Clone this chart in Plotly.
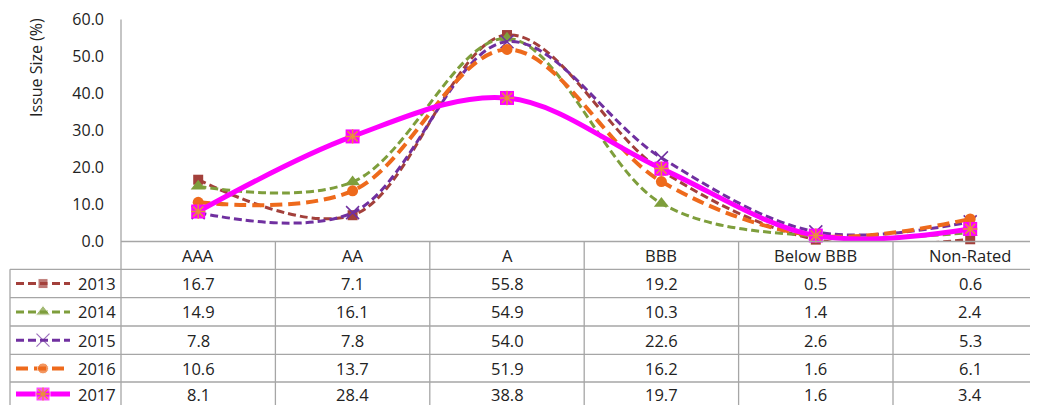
import plotly.graph_objects as go

categories = ["AAA", "AA", "A", "BBB", "Below BBB", "Non-Rated"]
years = ["2013", "2014", "2015", "2016", "2017"]
v2013 = [16.7, 7.1, 55.8, 19.2, 0.5, 0.6]
v2014 = [14.9, 16.1, 54.9, 10.3, 1.4, 2.4]
v2015 = [7.8, 7.8, 54.0, 22.6, 2.6, 5.3]
v2016 = [10.6, 13.7, 51.9, 16.2, 1.6, 6.1]
v2017 = [8.1, 28.4, 38.8, 19.7, 1.6, 3.4]
series_values = [v2013, v2014, v2015, v2016, v2017]
y_ticks = [0, 10, 20, 30, 40, 50, 60]

styles = [
    dict(color="#A3403B", width=3, dash="8px,4px", symbol="square", size=10),
    dict(color="#7E9E3C", width=3, dash="8px,4px", symbol="triangle-up", size=13),
    dict(color="#7030A0", width=3, dash="8px,4px", symbol="x-thin-open", size=13),
    dict(color="#EE6A1C", width=4, dash="12px,6px", symbol="circle", size=11),
    dict(color="#FF00FF", width=5, dash="solid", symbol="square", size=14),
]
STAR = "#E8913A"

W, H = 1038, 405
OFF = 8             # page body margin in the browser
GRID = "#A6A6A6"
TXT = "#222222"
FONT = "Open Sans"
FS = 16.5

# pixel layout (screen pixels) of plot + table, converted to paper pixels
def px(p):
    return p - OFF

AX_X = px(121)          # y-axis line
COL_W = 154.4           # category column width
AX_Y = px(241.5)        # x-axis line
TOP_Y = px(19.5)        # y=60
ROW_LINES = [px(v) for v in (269.3, 297.7, 326.0, 354.3, 382.0)]
ROW_TEXT = [px(v) for v in (283.6, 311.9, 340.2, 368.4, 394.0)]
LEG_X0 = px(10)

fig = go.Figure()

for name, vals, st in zip(years, series_values, styles):
    mk = dict(symbol=st["symbol"], size=st["size"], color=st["color"])
    if st["symbol"].endswith("open"):
        mk["line"] = dict(color=st["color"], width=1.5)
    fig.add_trace(go.Scatter(
        x=categories, y=vals, name=name, mode="lines+markers",
        line=dict(color=st["color"], width=st["width"], dash=st["dash"], shape="spline", smoothing=1.0),
        marker=mk, cliponaxis=False, showlegend=False, xaxis="x", yaxis="y"))
    if name == "2017":
        fig.add_trace(go.Scatter(
            x=categories, y=vals, mode="markers",
            marker=dict(symbol="asterisk-open", size=12, color=STAR, line=dict(color=STAR, width=1.5)),
            cliponaxis=False, showlegend=False, xaxis="x", yaxis="y"))

# legend keys inside the table (pixel overlay axes)
for i, (name, st) in enumerate(zip(years, styles)):
    cy = ROW_TEXT[i]
    mk = dict(symbol=st["symbol"], size=[0, st["size"], 0], color=st["color"])
    if st["symbol"].endswith("open"):
        mk["line"] = dict(color=st["color"], width=1.2)
    fig.add_trace(go.Scatter(
        x=[px(16), px(43), px(70)], y=[cy, cy, cy], mode="lines+markers",
        line=dict(color=st["color"], width=st["width"], dash=st["dash"]),
        marker=mk, showlegend=False, cliponaxis=False, xaxis="x2", yaxis="y2"))
    if name == "2017":
        fig.add_trace(go.Scatter(
            x=[px(43)], y=[cy], mode="markers",
            marker=dict(symbol="asterisk-open", size=11, color=STAR, line=dict(color=STAR, width=1.3)),
            showlegend=False, cliponaxis=False, xaxis="x2", yaxis="y2"))
    fig.add_annotation(x=px(76), y=cy, xref="x2", yref="y2", text=name, showarrow=False,
                       xanchor="left", yanchor="middle", font=dict(size=FS, color=TXT, family=FONT))
    for j, v in enumerate(series_values[i]):
        fig.add_annotation(x=categories[j], y=cy, xref="x", yref="y2", text=f"{v:.1f}",
                           showarrow=False, xanchor="center", yanchor="middle",
                           font=dict(size=FS, color=TXT, family=FONT))

# header row with category names
for c in categories:
    fig.add_annotation(x=c, y=(AX_Y + ROW_LINES[0]) / 2, xref="x", yref="y2", text=c, showarrow=False,
                       xanchor="center", yanchor="middle", font=dict(size=FS, color=TXT, family=FONT))

# table and axis lines
shapes = []
line = dict(color=GRID, width=1.3)
shapes.append(dict(type="line", xref="x2", yref="y2", x0=AX_X, x1=AX_X, y0=TOP_Y, y1=H, line=line))
shapes.append(dict(type="line", xref="x2", yref="y2", x0=AX_X, x1=W, y0=AX_Y, y1=AX_Y, line=line))
shapes.append(dict(type="line", xref="x2", yref="y2", x0=LEG_X0, x1=LEG_X0, y0=ROW_LINES[0], y1=H, line=line))
for r in ROW_LINES:
    shapes.append(dict(type="line", xref="x2", yref="y2", x0=LEG_X0, x1=W, y0=r, y1=r, line=line))
for k in range(1, len(categories)):
    xx = AX_X + COL_W * k
    shapes.append(dict(type="line", xref="x2", yref="y2", x0=xx, x1=xx, y0=AX_Y, y1=H, line=line))

fig.add_annotation(x=px(36), y=px(68), xref="x2", yref="y2", text="Issue Size (%)", textangle=-90,
                   showarrow=False, xanchor="center", yanchor="middle",
                   font=dict(size=16, color=TXT, family=FONT))

x_end = -0.5 + (W - AX_X) / COL_W
fig.update_layout(
    width=W, height=H, margin=dict(l=0, r=0, t=0, b=0, pad=0, autoexpand=False),
    paper_bgcolor="white", plot_bgcolor="rgba(0,0,0,0)",
    shapes=shapes,
    xaxis=dict(domain=[AX_X / W, 1], range=[-0.5, x_end], type="category", automargin=False,
               showticklabels=False, showgrid=False, zeroline=False, showline=False, ticks=""),
    yaxis=dict(domain=[1 - AX_Y / H, 1 - TOP_Y / H], range=[0, 60], tickvals=y_ticks, automargin=False,
               tickformat=".1f", showgrid=False, zeroline=False, showline=False, ticks="",
               ticklabeloverflow="allow", ticklabelstandoff=16,
               tickfont=dict(size=16, color=TXT, family=FONT)),
    xaxis2=dict(domain=[0, 1], range=[0, W], visible=False, anchor="y2", automargin=False),
    yaxis2=dict(domain=[0, 1], range=[H, 0], visible=False, anchor="x2", automargin=False),
    showlegend=False,
)

fig.write_html("out.html")
